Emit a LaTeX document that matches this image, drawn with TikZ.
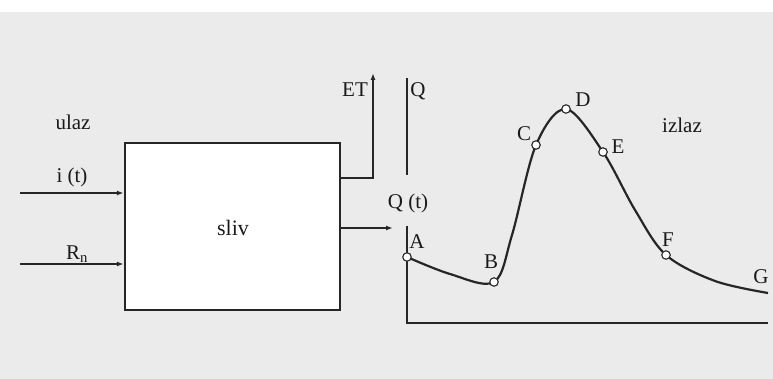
\documentclass[tikz,border=0pt]{standalone}
\usepackage{fontspec}
\setmainfont{Liberation Serif}
\usetikzlibrary{arrows.meta}
\begin{document}
\begin{tikzpicture}[x=1pt,y=-1pt,
  lbl/.style={font=\fontsize{21}{21}\selectfont, inner sep=0pt, text=black!90},
  wire/.style={line width=1.8pt, draw=black!85},
  arr/.style={wire, -{Latex[length=7pt,width=5pt]}},
  pt/.style={circle, draw=black!85, fill=white, line width=1.1pt, minimum size=8.5pt, inner sep=0pt}]
\useasboundingbox (0,0) rectangle (773,379);
\fill[white] (0,0) rectangle (773,12);
\fill[black!8] (0,12) rectangle (773,379);
% box
\node[draw=black!85, fill=white, line width=2.4pt, minimum width=215pt, minimum height=167pt, inner sep=0pt] (box) at (232.5,226.5) {};
\node[lbl, font=\fontsize{22}{22}\selectfont] (sliv) at (233,228) {sliv};
% inputs
\coordinate (i0) at (20,193);
\coordinate (r0) at (20,264);
\draw[arr] (i0) -- (i0 -| box.west);
\draw[arr] (r0) -- (r0 -| box.west);
\node[lbl] (ulaz) at (73,122) {ulaz};
\node[lbl] (it) at (72,177) {i (t)};
\node[lbl] (rn) at (77,254) {R\textsubscript{n}};
% ET
\coordinate (e0) at (box.east |- 0,178);
\coordinate (e1) at (373,178);
\coordinate (e2) at (373,73);
\draw[arr] (e0) -- (e1) -- (e2);
\node[lbl] (et) at (355,90) {ET};
% Q(t)
\coordinate (q0) at (box.east |- 0,228);
\coordinate (q1) at (393,228);
\draw[arr] (q0) -- (q1);
\node[lbl] (qt) at (408,203) {Q (t)};
% axes
\coordinate (ax1) at (407,78);
\coordinate (ax2) at (407,175);
\coordinate (ax3) at (407,226);
\coordinate (ax4) at (407,323);
\coordinate (ax5) at (768,323);
\draw[wire, line width=2pt] (ax1) -- (ax2);
\draw[wire, line width=2pt] (ax3) -- (ax4) -- (ax5);
\node[lbl] (q) at (418,91) {Q};
\node[lbl] (izlaz) at (682,125) {izlaz};
% curve
\draw[wire, line width=2.2pt] plot[smooth, tension=0.55] coordinates {
 (407,257) (450,274) (494,282) (512,235) (536,145) (566,109) (603,152) (635,210) (666,255) (715,281) (768,293)};
\node[pt] (A) at (407,257) {};
\node[pt] (B) at (494,282) {};
\node[pt] (C) at (536,145) {};
\node[pt] (D) at (566,109) {};
\node[pt] (E) at (603,152) {};
\node[pt] (F) at (666,255) {};
\node[lbl] (la) at (417,242) {A};
\node[lbl] (lb) at (491,262) {B};
\node[lbl] (lc) at (524,134) {C};
\node[lbl] (ld) at (583,100) {D};
\node[lbl] (le) at (618,147) {E};
\node[lbl] (lf) at (668,240) {F};
\node[lbl] (lg) at (761,277) {G};
\end{tikzpicture}
\end{document}
